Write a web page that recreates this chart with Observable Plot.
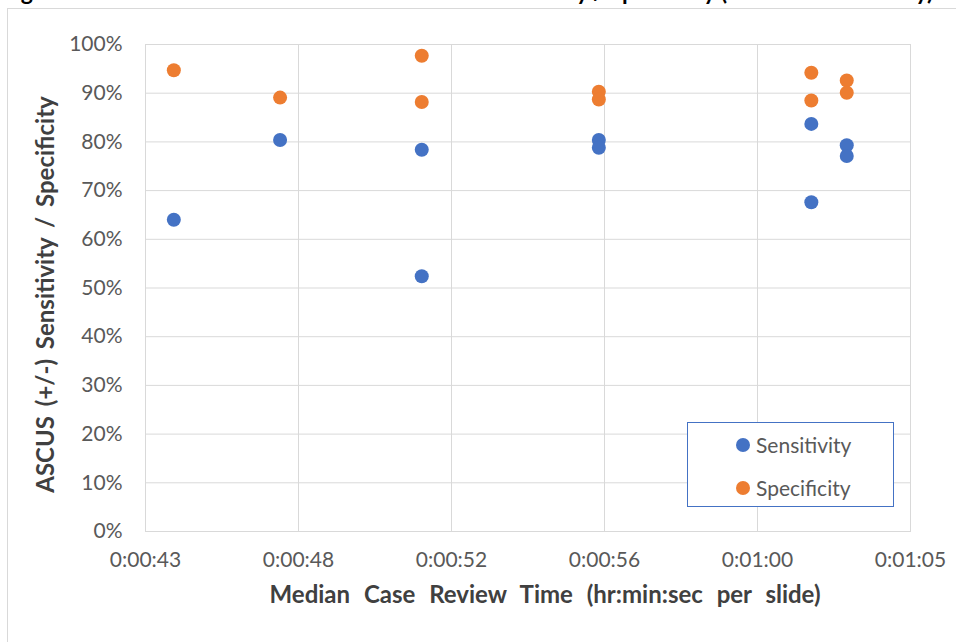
<!DOCTYPE html>
<html><head><meta charset="utf-8">
<script src="https://cdn.jsdelivr.net/npm/d3@7"></script>
<script src="https://cdn.jsdelivr.net/npm/@observablehq/plot@0.6"></script>
<style>
body{margin:0;background:#fff;font-family:Lato,"Open Sans",sans-serif;}
#wrap{position:relative;width:956px;height:642px;overflow:hidden;background:#fff;}
#border{position:absolute;left:7px;top:8px;width:1200px;height:1200px;border:1px solid #d9d9d9;}
#title{position:absolute;left:0;top:0;width:956px;height:7px;overflow:hidden;}
#title span{position:absolute;left:2px;top:-20px;font:bold 23px/22px Lato,sans-serif;color:#000;white-space:nowrap;}
#chart{position:absolute;left:0;top:0;}
#legend{position:absolute;left:687px;top:422px;width:207px;height:85px;border:1px solid #4472C4;background:#fff;box-sizing:border-box;}
.item{position:absolute;left:0;height:24px;}
.sw{position:absolute;left:48px;top:5px;width:14px;height:14px;border-radius:50%;}
.lab{position:absolute;left:68px;top:0;font:21px/24px Lato,sans-serif;color:#595959;white-space:nowrap;}
</style></head>
<body>
<div id="wrap">
  <div id="border"></div>
  <div id="title"><span id="titletext"></span></div>
  <div id="chart"></div>
  <div id="legend"></div>
</div>
<script>
// ---- data ----
const titleText = "Figure 4: Median Case Review Time vs. ASCUS Sensitivity / Specificity (Intended Use Study)";
const xTitle = "Median Case Review Time (hr:min:sec per slide)";
const yTitle = "ASCUS (+/-) Sensitivity / Specificity";
const seriesNames = ["Sensitivity", "Specificity"];
const seriesColors = ["#4472C4", "#ED7D31"];
// median review time in seconds per slide
const sensTime = [44, 47, 51, 51, 56, 56, 62, 62, 63, 63];
const sensValue = [0.640, 0.804, 0.784, 0.524, 0.804, 0.788, 0.837, 0.676, 0.793, 0.771];
const specTime = [44, 47, 51, 51, 56, 56, 62, 62, 63, 63];
const specValue = [0.947, 0.891, 0.977, 0.882, 0.903, 0.887, 0.942, 0.885, 0.926, 0.901];
const xDomain = [43.2, 64.8];
const xTicks = [43.2, 47.52, 51.84, 56.16, 60.48, 64.8];
const xTickLabels = ["0:00:43", "0:00:48", "0:00:52", "0:00:56", "0:01:00", "0:01:05"];
const yTicks = [0, 0.1, 0.2, 0.3, 0.4, 0.5, 0.6, 0.7, 0.8, 0.9, 1];
const yTickLabels = ["0%", "10%", "20%", "30%", "40%", "50%", "60%", "70%", "80%", "90%", "100%"];

document.getElementById("titletext").textContent = titleText;

const sens = sensTime.map((t, i) => ({t, v: sensValue[i]}));
const spec = specTime.map((t, i) => ({t, v: specValue[i]}));

const chart = Plot.plot({
  width: 956, height: 642,
  marginLeft: 145, marginRight: 46, marginTop: 44, marginBottom: 111,
  style: {fontFamily: "Lato, sans-serif", background: "transparent", color: "#595959"},
  x: {domain: xDomain},
  y: {domain: [0, 1]},
  marks: [
    Plot.gridX(xTicks, {stroke: "#d9d9d9", strokeOpacity: 1, strokeWidth: 1}),
    Plot.gridY(yTicks, {stroke: "#d9d9d9", strokeOpacity: 1, strokeWidth: 1}),
    Plot.frame({stroke: "#d9d9d9", strokeWidth: 1}),
    Plot.axisX(xTicks, {tickSize: 0, tickPadding: 21, fontSize: 21, fill: "#595959",
      tickFormat: d => xTickLabels[xTicks.indexOf(d)], label: null}),
    Plot.axisY(yTicks, {tickSize: 0, tickPadding: 23, fontSize: 21, fill: "#595959",
      tickFormat: d => yTickLabels[yTicks.indexOf(d)], label: null}),
    Plot.text([xTitle], {frameAnchor: "bottom", dy: 71, dx: 17, text: d => d,
      textAnchor: "middle", fontSize: 24, fontWeight: "bold", fill: "#404040"}),
    Plot.text([yTitle], {frameAnchor: "left", rotate: -90, dx: -99, dy: 6.5, text: d => d,
      textAnchor: "middle", fontSize: 24, fontWeight: "bold", fill: "#404040"}),
    Plot.dot(sens, {x: "t", y: "v", r: 7, fill: seriesColors[0], stroke: "none"}),
    Plot.dot(spec, {x: "t", y: "v", r: 7, fill: seriesColors[1], stroke: "none"})
  ]
});
chart.querySelectorAll("text").forEach(t => {
  if (t.textContent === xTitle) t.style.wordSpacing = "8px";
  if (t.textContent === yTitle) t.style.wordSpacing = "4px";
});
document.getElementById("chart").appendChild(chart);

const legend = document.getElementById("legend");
seriesNames.forEach((name, i) => {
  const it = document.createElement("div");
  it.className = "item";
  it.style.top = (10 + i * 43) + "px";
  const sw = document.createElement("div");
  sw.className = "sw";
  sw.style.background = seriesColors[i];
  const lab = document.createElement("div");
  lab.className = "lab";
  lab.textContent = name;
  it.appendChild(sw); it.appendChild(lab);
  legend.appendChild(it);
});
</script>
</body></html>
